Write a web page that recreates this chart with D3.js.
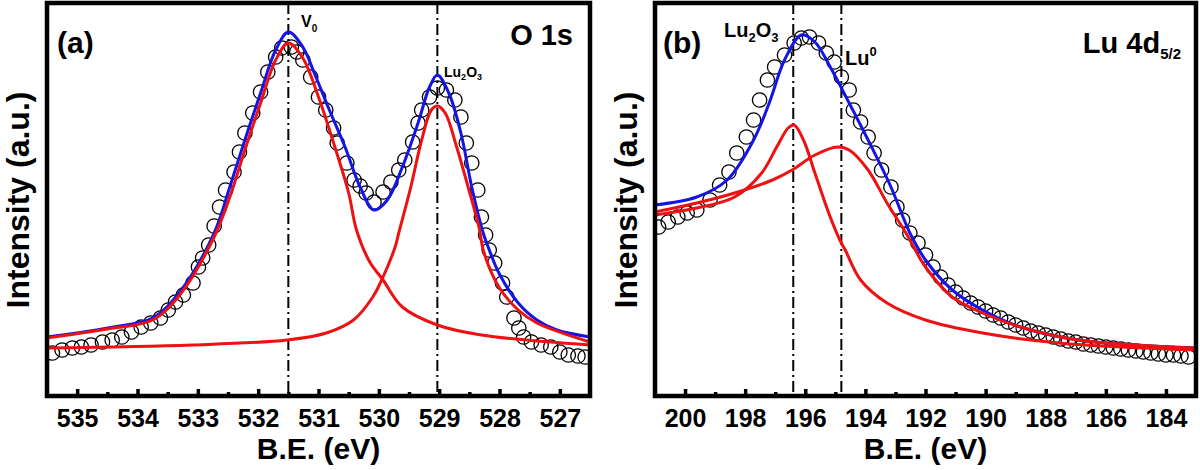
<!DOCTYPE html>
<html><head><meta charset="utf-8">
<script src="https://cdn.jsdelivr.net/npm/d3@7"></script>
<style>
html,body{margin:0;padding:0;background:#fff;}
svg text{font-family:"Liberation Sans",Arial,Helvetica,sans-serif;font-weight:bold;fill:#000;}
</style></head>
<body>
<svg id="chart" width="1200" height="470"></svg>
<script>
// ---------- Panel (a): O 1s ----------
const beA_pts = [535.41,535.25,535.08,534.93,534.77,534.58,534.42,534.26,534.10,533.94,533.78,533.62,533.49,533.37,533.24,533.08,532.99,532.92,532.82,532.73,532.64,532.54,532.40,532.31,532.22,532.09,531.96,531.84,531.71,531.61,531.45,531.36,531.26,531.13,531.00,530.88,530.75,530.69,530.53,530.41,530.31,530.21,530.08,529.93,529.80,529.67,529.57,529.44,529.35,529.29,529.16,529.03,528.88,528.74,528.64,528.55,528.46,528.36,528.30,528.23,528.17,528.08,527.95,527.88,527.76,527.68,527.60,527.47,527.31,527.15,527.00,526.86,526.70,526.58];
const intA_pts = [43,46,48,49,51,54,56,59,64,69,73,78,86,94,101,113,129,138,151,170,189,206,224,244,263,283,304,324,339,348,349,344,336,319,299,286,268,253,233,216,210,203,194,204,214,226,236,254,273,286,299,308,306,296,279,253,233,206,179,161,146,133,113,99,78,68,59,54,51,49,44,41,40,39];

const beA_fit = [535.5,535.0,534.4,533.75,533.3,532.73,532.47,532.22,531.96,531.71,531.5,531.26,531.07,530.82,530.56,530.31,530.08,529.86,529.61,529.35,529.16,529.03,528.84,528.64,528.46,528.27,528.2,528.01,527.69,527.38,527.05,526.5];
const intA_fit = [59,63,69,78,104,163,209,256,303,346,364,349,323,286,249,209,186,196,229,273,309,321,303,263,209,163,151,123,93,76,66,59];

const beA_v0 = [535.5,534.5,533.75,533.3,532.73,532.47,532.22,531.96,531.71,531.5,531.26,531.0,530.75,530.5,530.37,530.15,529.93,529.61,529.03,528.3,526.5];
const intA_v0 = [58,67,76,101,159,199,246,293,336,353,338,299,253,203,166,134,116,89,71,61,51];

const beA_lu = [535.5,533.1,531.52,530.87,530.42,530.1,529.93,529.73,529.67,529.47,529.29,529.13,529.03,528.9,528.71,528.52,528.33,528.27,528.01,527.69,527.38,526.5];
const intA_lu = [48,51,56,63,76,99,119,149,163,209,256,286,290,283,249,209,166,146,109,86,73,54];

const ticksA = [535,534,533,532,531,530,529,528,527];
const minorA = [534.5,533.5,532.5,531.5,530.5,529.5,528.5,527.5];
const markA = [531.5,529.03];

// ---------- Panel (b): Lu 4d5/2 ----------
const beB_pts = [200.88,200.56,200.24,199.93,199.61,199.17,198.85,198.54,198.28,197.96,197.72,197.52,197.26,197.02,196.69,196.37,196.13,195.86,195.56,195.30,195.04,194.80,194.54,194.40,194.16,193.91,193.71,193.46,193.15,192.95,192.76,192.52,192.25,192.0,191.75,191.5,191.25,191.0,190.75,190.5,190.25,190.0,189.75,189.5,189.25,189.0,188.75,188.5,188.25,188.0,187.75,187.5,187.25,187.0,186.75,186.5,186.25,186.0,185.75,185.5,185.25,185.0,184.75,184.5,184.25,184.0,183.75,183.5,183.25];
const intB_pts = [169,174,179,183,186,196,211,224,243,259,276,296,316,329,341,353,358,359,353,343,334,319,306,286,274,259,243,226,209,189,176,163,153,141,129,119,111,104,98,93,89,85,81,78,74,71,68,65,63,61,59,57,55,54,52,51,50,49,48,47,46,45,44,43,42,41,41,40,39];

const beB_fit = [201.0,199.61,198.6,197.72,197.2,196.69,196.13,195.68,195.17,194.54,193.91,193.15,192.52,192.0,191.11,190.1,188.84,186.92,185.03,183.0];
const intB_fit = [191,199,216,256,293,336,361,354,329,293,256,209,163,136,106,86,69,56,51,48];

const beB_ox = [201.0,199.61,198.35,197.45,196.95,196.57,196.37,196.06,195.68,195.17,194.85,194.67,194.16,193.28,192.0,190.1,187.56,183.0];
const intB_ox = [181,188,199,223,249,268,271,256,223,179,156,146,116,93,76,63,53,46];

const beB_met = [201.0,199.61,198.35,197.09,196.44,195.68,194.92,194.54,193.91,193.28,192.65,192.0,191.11,190.1,188.84,186.92,183.0];
const intB_met = [184,193,203,216,226,241,249,246,226,193,163,129,99,83,69,56,48];

const ticksB = [200,198,196,194,192,190,188,186,184];
const minorB = [199,197,195,193,191,189,187,185];
const markB = [196.4,194.8];

const yMax = 393;
const BLUE = "#1414e6", RED = "#ee1111";

const svg = d3.select("#chart");

function zip(xs, ys){ return xs.map((x,i)=>({x:x, y:ys[i]})); }

function panel(o){
  const x = d3.scaleLinear().domain(o.dom).range([o.left, o.right]);
  const y = d3.scaleLinear().domain([0, yMax]).range([396, 3]);
  const g = svg.append("g");
  const cid = "clip" + o.id;
  svg.append("defs").append("clipPath").attr("id", cid)
    .append("rect").attr("x", o.left).attr("y", 3).attr("width", o.right - o.left).attr("height", 393);
  const pg = g.append("g").attr("clip-path", `url(#${cid})`);

  // dash-dot markers
  pg.selectAll("line.mk").data(o.marks).join("line")
    .attr("x1", d=>x(d)).attr("x2", d=>x(d)).attr("y1", 3).attr("y2", 396)
    .attr("stroke", "#000").attr("stroke-width", 2).attr("stroke-dasharray", "11,4,2,4");

  // data circles
  pg.selectAll("circle").data(zip(o.be, o.pts)).join("circle")
    .attr("cx", d=>x(d.x)).attr("cy", d=>y(d.y)).attr("r", 7.2)
    .attr("fill", "none").attr("stroke", "#000").attr("stroke-width", 1.3);

  const line = d3.line().x(d=>x(d.x)).y(d=>y(d.y)).curve(d3.curveCatmullRom.alpha(0.5));
  o.curves.forEach(c=>{
    pg.append("path").datum(zip(c.be, c.v)).attr("d", line)
      .attr("fill", "none").attr("stroke", c.color).attr("stroke-width", 3);
  });

  // axis ticks
  const ax = d3.axisBottom(x).tickValues(o.ticks).tickSize(-7).tickPadding(13).tickFormat(d3.format("d"));
  const ag = g.append("g").attr("transform", "translate(0,396)").call(ax);
  ag.select(".domain").remove();
  ag.selectAll(".tick line").attr("stroke", "#000").attr("stroke-width", 3.5);
  ag.selectAll(".tick text").attr("font-size", 25).style("font-family", '"Liberation Sans",Arial,sans-serif').style("font-weight", "bold");
  const mx = d3.axisBottom(x).tickValues(o.minor).tickSize(-4).tickFormat("");
  const mg = g.append("g").attr("transform", "translate(0,396)").call(mx);
  mg.select(".domain").remove();
  mg.selectAll(".tick line").attr("stroke", "#000").attr("stroke-width", 3.5);

  // frame
  g.append("rect").attr("x", o.left).attr("y", 3).attr("width", o.right - o.left).attr("height", 393)
    .attr("fill", "none").attr("stroke", "#000").attr("stroke-width", 4.5);

  // axis titles
  g.append("text").attr("x", (o.left + o.right)/2).attr("y", 459).attr("text-anchor", "middle")
    .attr("font-size", 30).text("B.E. (eV)");
  g.append("text").attr("transform", `translate(${o.ylabX},200) rotate(-90)`).attr("text-anchor", "middle")
    .attr("dominant-baseline", "central").attr("font-size", 32).text("Intensity (a.u.)");
  return {x, y, g};
}

const A = panel({id:"a", dom:[535.5, 526.5], left:47, right:590, be:beA_pts, pts:intA_pts,
  ticks:ticksA, minor:minorA, marks:markA, ylabX:18,
  curves:[{be:beA_fit, v:intA_fit, color:BLUE},{be:beA_v0, v:intA_v0, color:RED},{be:beA_lu, v:intA_lu, color:RED}]});

const B = panel({id:"b", dom:[201, 183], left:655, right:1196, be:beB_pts, pts:intB_pts,
  ticks:ticksB, minor:minorB, marks:markB, ylabX:626,
  curves:[{be:beB_fit, v:intB_fit, color:BLUE},{be:beB_ox, v:intB_ox, color:RED},{be:beB_met, v:intB_met, color:RED}]});

// labels panel (a)
A.g.append("text").attr("x", 57).attr("y", 53).attr("font-size", 30).text("(a)");
A.g.append("text").attr("x", 573).attr("y", 45).attr("text-anchor", "end").attr("font-size", 29).text("O 1s");
const v0 = A.g.append("text").attr("x", 301).attr("y", 27).attr("font-size", 16);
v0.append("tspan").text("V");
v0.append("tspan").attr("dy", 5).attr("font-size", 10).text("0");
const la = A.g.append("text").attr("x", 444).attr("y", 77).attr("font-size", 14);
la.append("tspan").text("Lu");
la.append("tspan").attr("dy", 3).attr("font-size", 9).text("2");
la.append("tspan").attr("dy", -3).text("O");
la.append("tspan").attr("dy", 3).attr("font-size", 9).text("3");

// labels panel (b)
B.g.append("text").attr("x", 663).attr("y", 53).attr("font-size", 30).text("(b)");
const lb = B.g.append("text").attr("x", 724).attr("y", 37).attr("font-size", 20);
lb.append("tspan").text("Lu");
lb.append("tspan").attr("dy", 5).attr("font-size", 13).text("2");
lb.append("tspan").attr("dy", -5).text("O");
lb.append("tspan").attr("dy", 5).attr("font-size", 13).text("3");
const lm = B.g.append("text").attr("x", 845).attr("y", 65).attr("font-size", 20);
lm.append("tspan").text("Lu");
lm.append("tspan").attr("dy", -9).attr("font-size", 13).text("0");
const lt = B.g.append("text").attr("x", 1181).attr("y", 53).attr("text-anchor", "end").attr("font-size", 29);
lt.append("tspan").text("Lu 4d");
lt.append("tspan").attr("dy", 6).attr("font-size", 15).text("5/2");
</script>
</body></html>
